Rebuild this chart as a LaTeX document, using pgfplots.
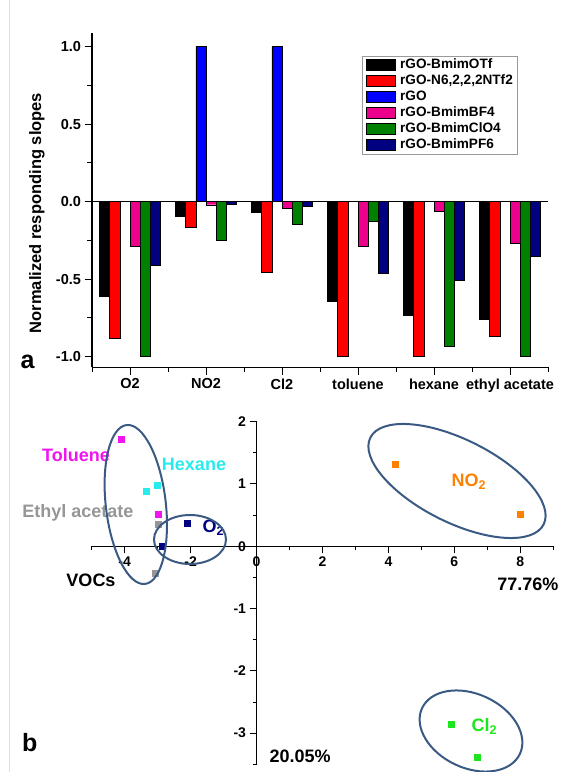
\documentclass[border=0pt]{standalone}
\usepackage{fontspec}
\setmainfont{Liberation Sans}
\usepackage{pgfplots}
\pgfplotsset{compat=1.18}

\definecolor{navyc}{RGB}{0,0,128}
\definecolor{greenc}{RGB}{0,128,0}
\definecolor{ellc}{RGB}{58,90,132}
\definecolor{orangec}{RGB}{255,128,0}
\definecolor{limec}{RGB}{30,230,30}
\definecolor{cyanc}{RGB}{40,235,235}
\definecolor{grayc}{RGB}{150,150,150}
\definecolor{magc}{RGB}{240,20,240}

\begin{document}
\begin{tikzpicture}[x=1pt,y=1pt]
\useasboundingbox (0,0) rectangle (572,772);
\draw[gray!25, line width=0.8pt] (9.5,0) -- (9.5,772);

% ---- panel a: normalized slopes
\begin{axis}[
  at={(92pt,404.5pt)}, anchor=south west,
  scale only axis, width=456pt, height=334.2pt,
  xmin=0.5, xmax=6.5, ymin=-1.07, ymax=1.086,
  axis x line=bottom, axis y line=left,
  axis line style={line width=1.2pt,-},
  ybar=0pt, bar width=10.2pt,
  xtick={1,...,6}, xticklabels={O2,NO2,Cl2,toluene,hexane,ethyl acetate},
  minor xtick={0.5,1.5,...,6.5},
  ytick={-1,-0.5,0,0.5,1}, yticklabels={-1.0,-0.5,0.0,0.5,1.0},
  minor ytick={-0.75,-0.25,0.25,0.75},
  tick align=outside, major tick length=7.5pt, minor tick length=5pt,
  every tick/.style={line width=1pt,black},
  ticklabel style={font=\bfseries\fontsize{14.5}{16}\selectfont},
  legend style={at={(0.593,0.933)}, anchor=north west, draw=gray!80,
    line width=0.6pt, font=\bfseries\fontsize{13.6}{15}\selectfont,
    nodes={inner sep=1pt, text height=9.5pt, text depth=2.5pt},
    row sep=2pt, inner xsep=3pt, inner ysep=2pt},
  legend cell align=left,
  legend image code/.code={\draw[#1,line width=0.4pt] (0pt,-5.5pt) rectangle (29pt,5.5pt);
    \path (33pt,0pt);},
]
\addplot[fill=black, draw=black] coordinates {(1,-0.613) (2,-0.092) (3,-0.068) (4,-0.64) (5,-0.731) (6,-0.761)};
\addlegendentry{rGO-BmimOTf}
\addplot[fill=red, draw=black] coordinates {(1,-0.88) (2,-0.165) (3,-0.455) (4,-1.0) (5,-1.0) (6,-0.866)};
\addlegendentry{rGO-N6,2,2,2NTf2}
\addplot[fill=blue, draw=black] coordinates {(2,1.0) (3,1.0)};
\addlegendentry{rGO}
\addplot[fill=magenta, draw=black] coordinates {(1,-0.29) (2,-0.02) (3,-0.043) (4,-0.29) (5,-0.062) (6,-0.268)};
\addlegendentry{rGO-BmimBF4}
\addplot[fill=greenc, draw=black] coordinates {(1,-1.0) (2,-0.247) (3,-0.146) (4,-0.125) (5,-0.931) (6,-1.0)};
\addlegendentry{rGO-BmimClO4}
\addplot[fill=navyc, draw=black] coordinates {(1,-0.413) (2,-0.015) (3,-0.032) (4,-0.462) (5,-0.507) (6,-0.35)};
\addlegendentry{rGO-BmimPF6}
\draw[black, line width=0.8pt] (axis cs:0.5,0) -- (axis cs:6.5,0);
\end{axis}
\node[rotate=90, font=\bfseries\fontsize{16.5}{18}\selectfont] at (37,559) {Normalized responding slopes};
\node[font=\bfseries\fontsize{25}{28}\selectfont] at (27.5,410) {a};

% ---- panel b: PCA scores
\begin{axis}[
  at={(91.7pt,7.7pt)}, anchor=south west,
  scale only axis, width=461.6pt, height=342.6pt,
  xmin=-5, xmax=9, ymin=-3.5, ymax=2,
  axis lines=middle, axis line style={line width=1.2pt,-},
  xtick={-4,-2,0,2,4,6,8}, xticklabels={-4,-2,0,2,4,6,8},
  minor xtick={-5,-3,-1,1,3,5,7,9},
  ytick={-3,-2,-1,0,1,2}, yticklabels={-3,-2,-1,0,1,2},
  minor ytick={-3.5,-2.5,-1.5,-0.5,0.5,1.5},
  hide obscured x ticks=false, hide obscured y ticks=false,
  tick align=outside, major tick length=7pt, minor tick length=4pt,
  every tick/.style={line width=1pt,black},
  ticklabel style={font=\bfseries\fontsize{14}{16}\selectfont},
  clip=false,
]
\addplot[only marks, mark=square*, mark size=3pt, color=magc] coordinates {(-4.11,1.72) (-2.97,0.52)};
\addplot[only marks, mark=square*, mark size=3pt, color=cyanc] coordinates {(-3.35,0.88) (-3.0,0.985)};
\addplot[only marks, mark=square*, mark size=3pt, color=grayc] coordinates {(-2.97,0.36) (-3.07,-0.44)};
\addplot[only marks, mark=square*, mark size=3pt, color=navyc] coordinates {(-2.87,0.0) (-2.1,0.37)};
\addplot[only marks, mark=square*, mark size=3pt, color=orangec] coordinates {(4.2,1.31) (8.0,0.51)};
\addplot[only marks, mark=square*, mark size=3pt, color=limec] coordinates {(5.91,-2.85) (6.70,-3.39)};
\end{axis}

\begin{scope}[font=\bfseries\fontsize{18}{20}\selectfont]
\node[magc] at (76,317) {Toluene};
\node[cyanc] at (194,308) {Hexane};
\node[grayc, anchor=east] at (137,259.3) {Ethyl acetate};
\node[black] at (91,192) {VOCs};
\node[navyc, anchor=west] at (199,244) {O\textsubscript{2}};
\node[orangec, anchor=west] at (448,290.3) {NO\textsubscript{2}};
\node[limec, anchor=west] at (468,45.3) {Cl\textsubscript{2}};
\node[black, anchor=east] at (562,187.7) {77.76\%};
\node[black, anchor=west] at (266,15.3) {20.05\%};
\end{scope}
\node[font=\bfseries\fontsize{25}{28}\selectfont] at (29.7,29) {b};

% cluster outlines
\begin{scope}[ellc, line width=2pt]
\draw[rotate around={6.6:(135.8,267.5)}] (135.8,267.5) ellipse [x radius=30, y radius=80];
\draw (190,232.5) ellipse [x radius=36, y radius=24.5];
\draw[rotate around={-26.6:(457,291)}] (457,291) ellipse [x radius=96.9, y radius=41.4];
\draw[rotate around={-25:(471,41)}] (471,41) ellipse [x radius=54, y radius=37];
\end{scope}
\end{tikzpicture}
\end{document}
